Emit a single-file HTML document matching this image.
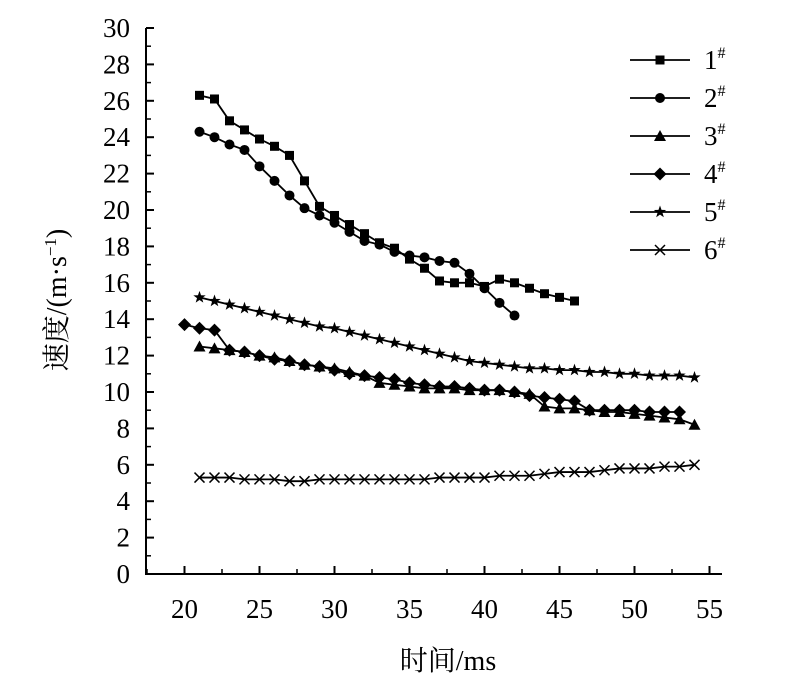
<!DOCTYPE html>
<html><head><meta charset="utf-8"><style>
html,body{margin:0;padding:0;background:#fff}
svg text{font-family:"Liberation Serif","Noto Serif CJK SC",serif;fill:#000}
</style></head><body>
<svg id="chart" width="802" height="693" viewBox="0 0 802 693" xmlns="http://www.w3.org/2000/svg">
<g id="axes"></g><g id="series"></g><g id="legend"></g>
<text transform="translate(66,300) rotate(-90)" text-anchor="middle" font-size="28">速度/(m·s<tspan dy="-10" font-size="17">−1</tspan><tspan dy="10">)</tspan></text>
<text x="448" y="670" text-anchor="middle" font-size="28">时间/ms</text>
</svg>
<script>
const s1 = [26.3,26.1,24.9,24.4,23.9,23.5,23.0,21.6,20.2,19.7,19.2,18.7,18.2,17.9,17.3,16.8,16.1,16.0,16.0,15.8,16.2,16.0,15.7,15.4,15.2,15.0];
const s2 = [24.3,24.0,23.6,23.3,22.4,21.6,20.8,20.1,19.7,19.3,18.8,18.3,18.1,17.7,17.5,17.4,17.2,17.1,16.5,15.7,14.9,14.2];
const s3 = [12.5,12.4,12.3,12.2,12.0,11.9,11.7,11.5,11.4,11.3,11.1,10.9,10.5,10.4,10.3,10.2,10.2,10.2,10.1,10.1,10.1,10.0,9.9,9.2,9.1,9.1,9.0,8.9,8.9,8.8,8.7,8.6,8.5,8.2];
const s4 = [13.7,13.5,13.4,12.3,12.2,12.0,11.8,11.7,11.5,11.4,11.2,11.0,10.9,10.8,10.7,10.5,10.4,10.3,10.3,10.2,10.1,10.1,10.0,9.8,9.7,9.6,9.5,9.0,9.0,9.0,9.0,8.9,8.9,8.9];
const s5 = [15.2,15.0,14.8,14.6,14.4,14.2,14.0,13.8,13.6,13.5,13.3,13.1,12.9,12.7,12.5,12.3,12.1,11.9,11.7,11.6,11.5,11.4,11.3,11.3,11.2,11.2,11.1,11.1,11.0,11.0,10.9,10.9,10.9,10.8];
const s6 = [5.3,5.3,5.3,5.2,5.2,5.2,5.1,5.1,5.2,5.2,5.2,5.2,5.2,5.2,5.2,5.2,5.3,5.3,5.3,5.3,5.4,5.4,5.4,5.5,5.6,5.6,5.6,5.7,5.8,5.8,5.8,5.9,5.9,6.0];
const starts = [21,21,21,20,21,21];
const seriesNames = ["1","2","3","4","5","6"];
const xTicks = [20,25,30,35,40,45,50,55];
const yTicks = [0,2,4,6,8,10,12,14,16,18,20,22,24,26,28,30];

const NS="http://www.w3.org/2000/svg";
const X0=146,X1=722,Y0=574;
const xs=v=>184.5+(v-20)*15;
const ys=v=>Y0-v*18.2;
function mk(tag,attrs,parent){const e=document.createElementNS(NS,tag);for(const k in attrs)e.setAttribute(k,attrs[k]);parent.appendChild(e);return e;}
const axes=document.getElementById('axes');
let e=mk('path',{d:`M${X0} 28 V${Y0} H${X1}`,fill:'none',stroke:'#000','stroke-width':2},axes);


yTicks.forEach(t=>{
  const y=ys(t);
  let l=mk('line',{x1:X0,x2:X0+8,y1:y,y2:y,stroke:'#000','stroke-width':2},axes);
  
  
  if(t<30){let m=mk('line',{x1:X0,x2:X0+5,y1:ys(t+1),y2:ys(t+1),stroke:'#000','stroke-width':1.5},axes);
  
  }
  let tx=mk('text',{x:X0-16,y:y+9,'text-anchor':'end','font-size':27},axes);tx.textContent=t;
  
  
});
xTicks.forEach(t=>{
  const x=xs(t);
  let l=mk('line',{x1:x,x2:x,y1:Y0,y2:Y0-8,stroke:'#000','stroke-width':2},axes);
  
  
  let m=mk('line',{x1:x-37.5,x2:x-37.5,y1:Y0,y2:Y0-5,stroke:'#000','stroke-width':1.5},axes);
  
  
  let tx=mk('text',{x:x,y:Y0+44,'text-anchor':'middle','font-size':27},axes);tx.textContent=t;
  
  
});
function marker(type,x,y,g){
  let m;
  if(type==0) m=mk('rect',{x:x-4.5,y:y-4.5,width:9,height:9,fill:'#000'},g);
  else if(type==1) m=mk('circle',{cx:x,cy:y,r:5,fill:'#000'},g);
  else if(type==2) m=mk('polygon',{points:`${x},${y-6} ${x+6},${y+5} ${x-6},${y+5}`,fill:'#000'},g);
  else if(type==3) m=mk('polygon',{points:`${x},${y-6.5} ${x+6.5},${y} ${x},${y+6.5} ${x-6.5},${y}`,fill:'#000'},g);
  else if(type==4){let p='';for(let i=0;i<10;i++){const r=i%2?2.6:6.5,a=-Math.PI/2+i*Math.PI/5;p+=`${x+r*Math.cos(a)},${y+r*Math.sin(a)} `;}m=mk('polygon',{points:p,fill:'#000'},g);}
  else m=mk('path',{d:`M${x-5} ${y-5}L${x+5} ${y+5}M${x+5} ${y-5}L${x-5} ${y+5}`,stroke:'#000','stroke-width':1.5},g);
  
  
}
const all=[s1,s2,s3,s4,s5,s6];
const sg=document.getElementById('series');
all.forEach((arr,k)=>{
  const g=mk('g',{},sg);
  
  
  const pts=arr.map((v,i)=>`${xs(starts[k]+i)},${ys(v)}`).join(' ');
  mk('polyline',{points:pts,fill:'none',stroke:'#000','stroke-width':1.8},g);
  arr.forEach((v,i)=>marker(k,xs(starts[k]+i),ys(v),g));
});
const lg=document.getElementById('legend');
seriesNames.forEach((n,k)=>{
  const y=60+k*38;
  const g=mk('g',{},lg);
  
  
  mk('line',{x1:630,x2:690,y1:y,y2:y,stroke:'#000','stroke-width':1.8},g);
  marker(k,660,y,g);
  const t=mk('text',{x:704,y:y+9,'font-size':27},g);
  t.textContent=n;
  const s=mk('tspan',{dy:-11,'font-size':16},t);s.textContent='#';
});
</script>
</body></html>
